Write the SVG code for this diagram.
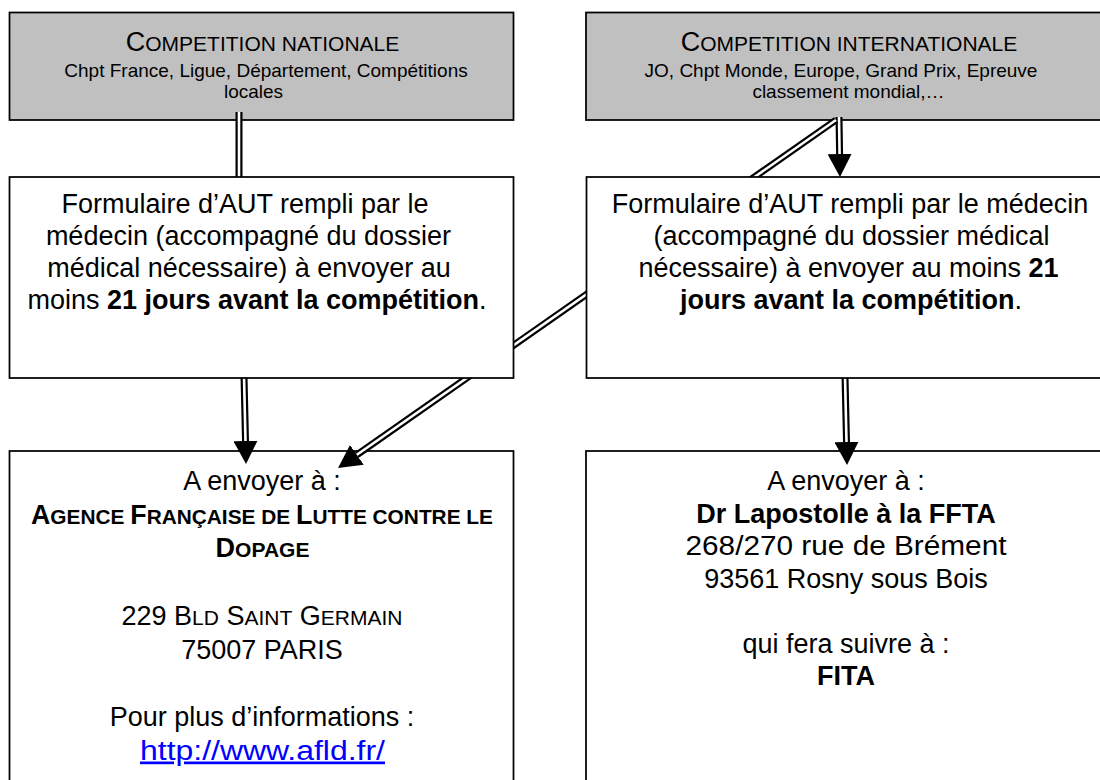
<svg xmlns="http://www.w3.org/2000/svg" width="1100" height="780" viewBox="0 0 1100 780">
<style>
text{font-family:"Liberation Sans",Arial,Helvetica,sans-serif;fill:#000;text-anchor:middle}
.m{font-size:27px}
.sub{font-size:19px}
.b{font-weight:bold}
.sc{font-size:21px}
.box{fill:#fff;stroke:#000;stroke-width:1.75}
.hdr{fill:#c0c0c0;stroke:#000;stroke-width:1.75}
.dlo{fill:none;stroke:#000;stroke-width:7;stroke-linecap:butt}
.dli{fill:none;stroke:#fff;stroke-width:2.6;stroke-linecap:butt}
.link{fill:#0000ff;text-decoration:underline}
</style>
<defs>
<marker id="ah" markerUnits="userSpaceOnUse" markerWidth="23" markerHeight="24" viewBox="0 0 23 24" refX="0" refY="12" orient="auto">
<path d="M0,0 L23,12 L0,24 Z" fill="#000"/>
</marker>
</defs>
<rect width="1100" height="780" fill="#fff"/>

<g id="nationale">
<rect class="hdr" x="9.5" y="12.5" width="504" height="107.5"/>
<text x="262.5" y="51" class="m">C<tspan class="sc">OMPETITION NATIONALE</tspan></text>
<text x="266" y="77" class="sub">Chpt France, Ligue, Département, Compétitions</text>
<text x="253.5" y="98" class="sub">locales</text>
</g>

<g id="internationale">
<rect class="hdr" x="586" y="12.5" width="530" height="107.5"/>
<text x="849" y="51" class="m">C<tspan class="sc">OMPETITION INTERNATIONALE</tspan></text>
<text x="841" y="77" class="sub">JO, Chpt Monde, Europe, Grand Prix, Epreuve</text>
<text x="848.5" y="98" class="sub">classement mondial,…</text>
</g>

<g id="afld">
<rect class="box" x="9.5" y="451" width="504" height="340"/>
<text x="262" y="490" class="m">A envoyer à :</text>
<text x="262" y="523.5" class="m b" textLength="462" lengthAdjust="spacingAndGlyphs">A<tspan class="sc">GENCE </tspan>F<tspan class="sc">RANÇAISE DE </tspan>L<tspan class="sc">UTTE CONTRE LE</tspan></text>
<text x="262.5" y="557" class="m b">D<tspan class="sc">OPAGE</tspan></text>
<text x="262" y="625" class="m">229 B<tspan class="sc">LD</tspan> S<tspan class="sc">AINT</tspan> G<tspan class="sc">ERMAIN</tspan></text>
<text x="262" y="658.5" class="m">75007 PARIS</text>
<text x="262" y="726" class="m">Pour plus d’informations :</text>
<text x="262.5" y="759.5" class="m link" textLength="245" lengthAdjust="spacingAndGlyphs">http://www.afld.fr/</text>
</g>

<g id="ffta">
<rect class="box" x="586" y="451" width="530" height="340"/>
<text x="846" y="490" class="m">A envoyer à :</text>
<text x="846" y="522.5" class="m b">Dr Lapostolle à la FFTA</text>
<text x="846" y="555" class="m" textLength="321" lengthAdjust="spacingAndGlyphs">268/270 rue de Brément</text>
<text x="846" y="587.5" class="m">93561 Rosny sous Bois</text>
<text x="846" y="652.5" class="m">qui fera suivre à :</text>
<text x="846" y="685" class="m b">FITA</text>
</g>

<g id="connectors">
<path class="dlo" d="M239,112 L239,177"/>
<path class="dli" d="M239,112 L239,177"/>
<path class="dlo" d="M839,117 L839.6,154" marker-end="url(#ah)"/>
<path class="dli" d="M839,117 L839.6,154"/>
<path class="dlo" d="M836,120 L356.9,454.8" marker-end="url(#ah)"/>
<path class="dli" d="M836,120 L356.9,454.8"/>
<path class="dlo" d="M244,376 L245.5,441" marker-end="url(#ah)"/>
<path class="dli" d="M244,376 L245.5,441"/>
<path class="dlo" d="M845,376 L846.5,442" marker-end="url(#ah)"/>
<path class="dli" d="M845,376 L846.5,442"/>
</g>

<g id="form-nationale">
<rect class="box" x="9.5" y="177" width="504" height="201"/>
<text x="245" y="212.5" class="m">Formulaire d’AUT rempli par le</text>
<text x="248.5" y="244.5" class="m">médecin (accompagné du dossier</text>
<text x="249" y="276.5" class="m">médical nécessaire) à envoyer au</text>
<text x="257" y="308.5" class="m">moins <tspan class="b">21 jours avant la compétition</tspan>.</text>
</g>

<g id="form-internationale">
<rect class="box" x="586.5" y="177" width="530" height="201"/>
<text x="850" y="212.5" class="m">Formulaire d’AUT rempli par le médecin</text>
<text x="851.5" y="244.5" class="m">(accompagné du dossier médical</text>
<text x="848.5" y="276.5" class="m">nécessaire) à envoyer au moins <tspan class="b">21</tspan></text>
<text x="851" y="308.5" class="m"><tspan class="b">jours avant la compétition</tspan>.</text>
</g>
</svg>
